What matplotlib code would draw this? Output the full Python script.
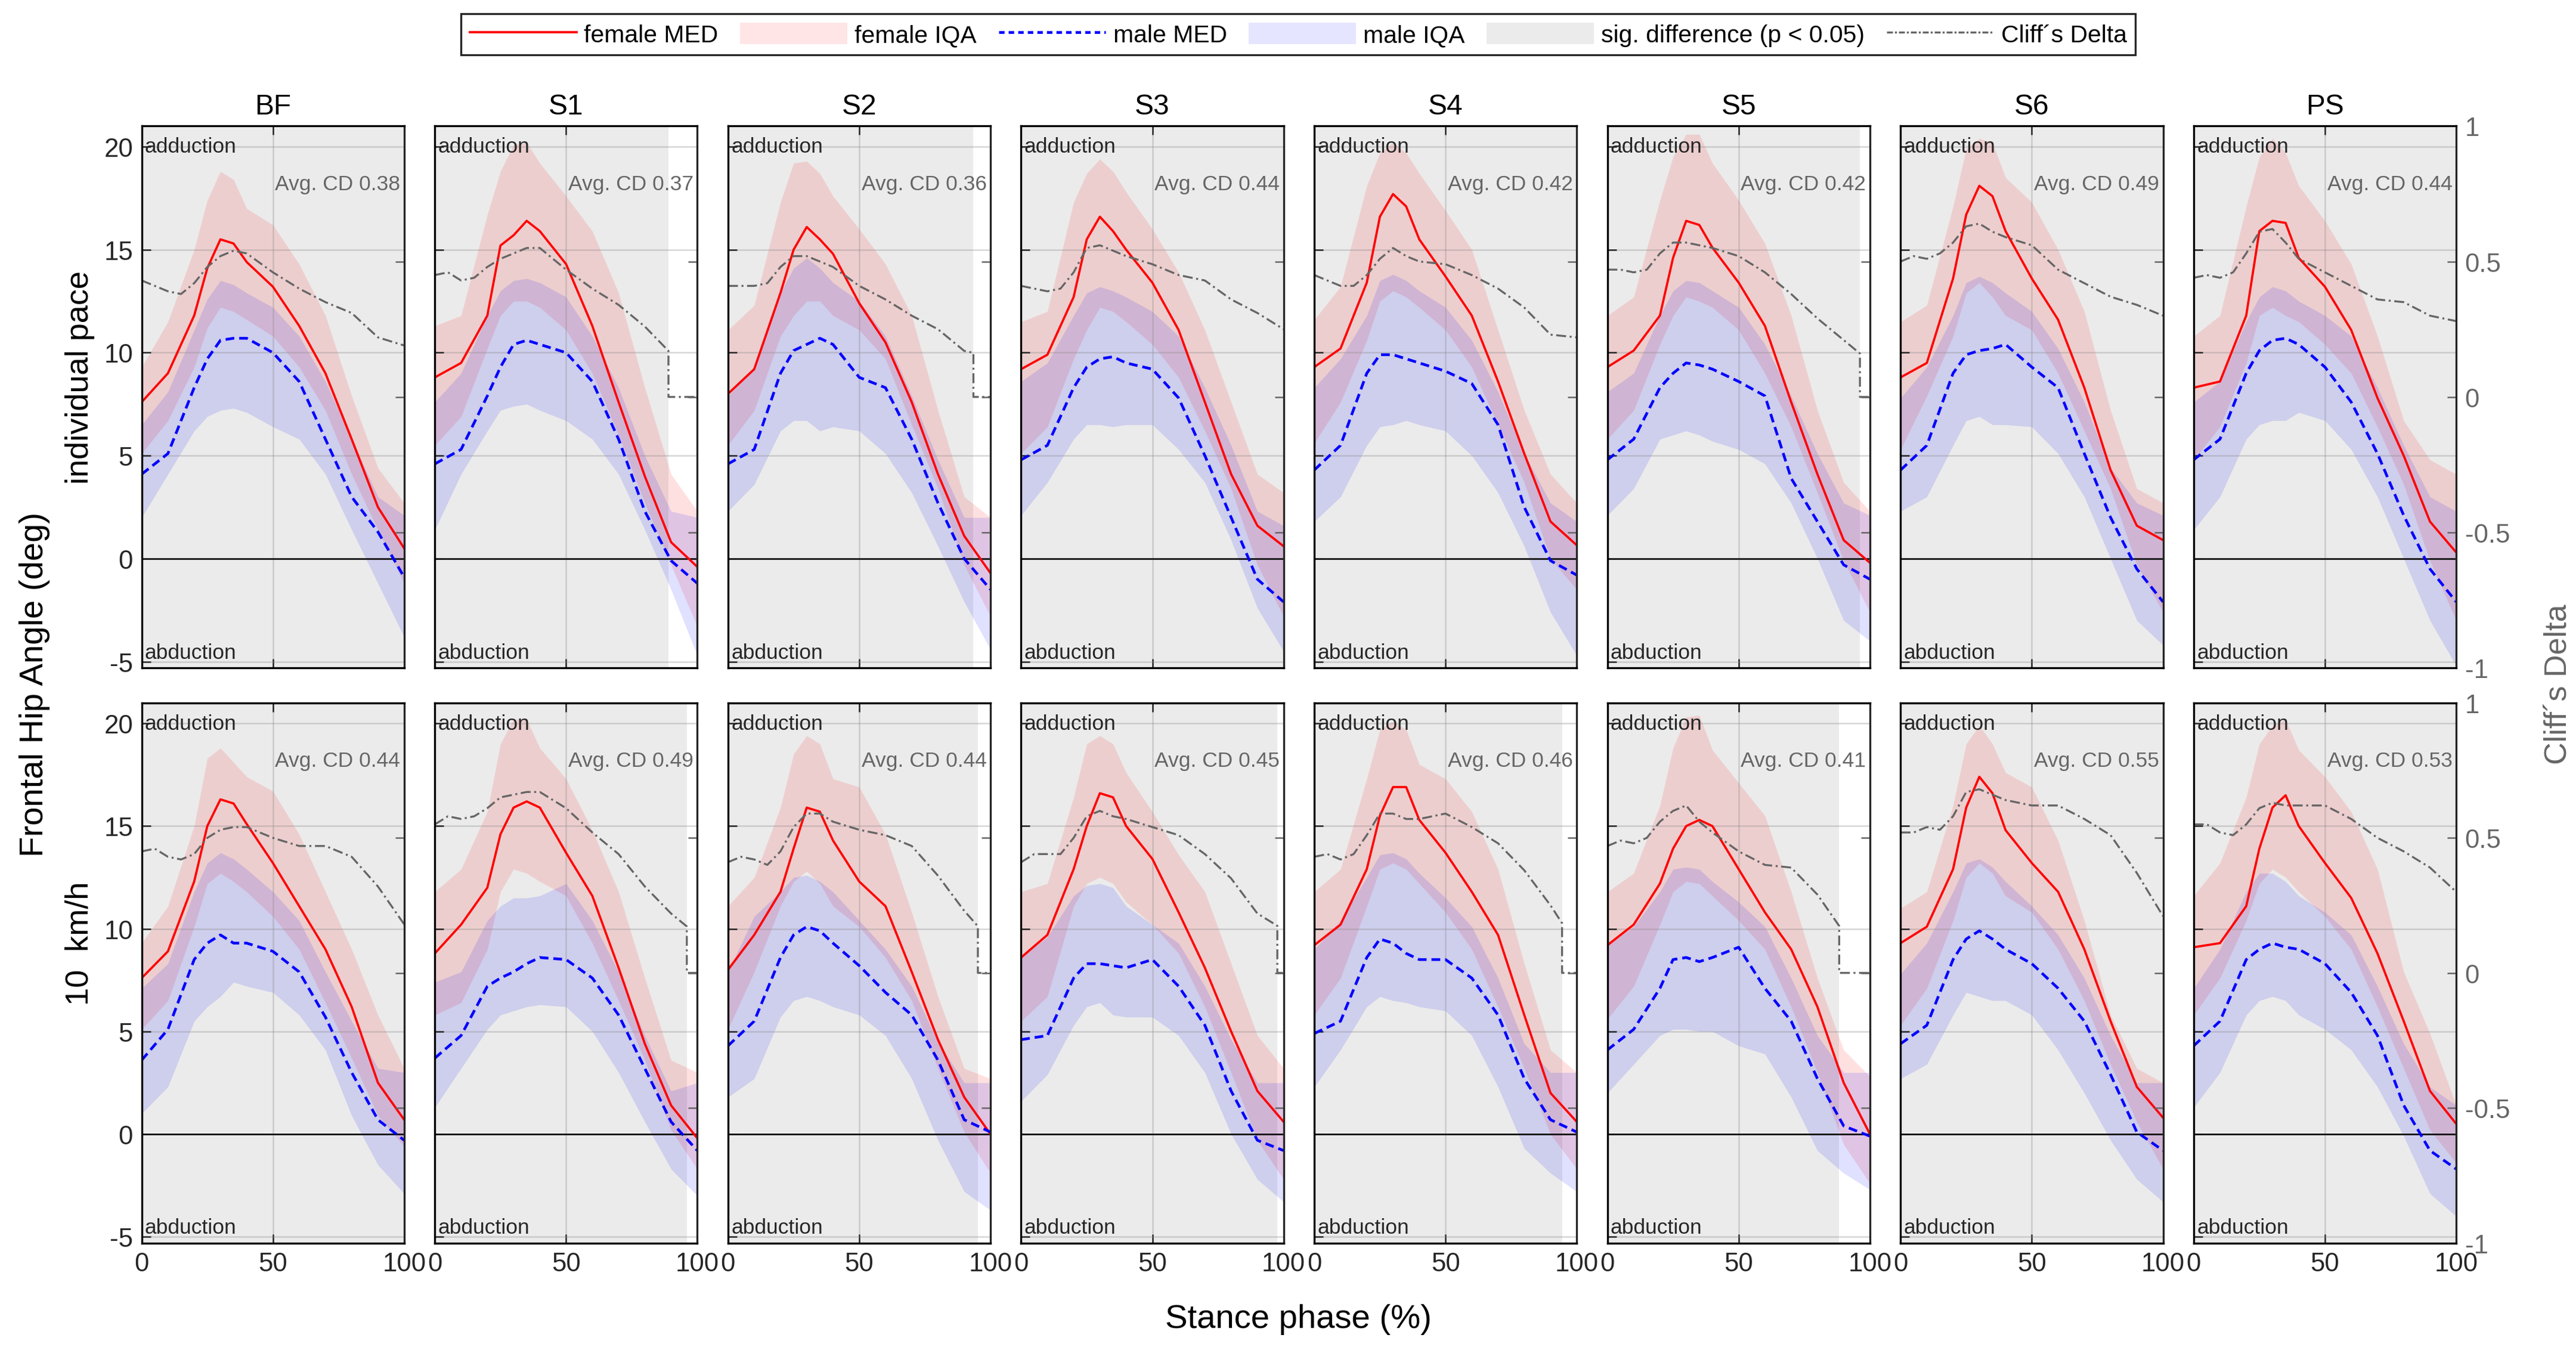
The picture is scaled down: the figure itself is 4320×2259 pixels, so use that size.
import matplotlib
matplotlib.use('Agg')
import matplotlib.pyplot as plt
import numpy as np
from matplotlib.patches import Patch
from matplotlib.lines import Line2D

plt.rcParams['font.family'] = ['Liberation Sans', 'DejaVu Sans']
plt.rcParams['axes.unicode_minus'] = False

# stance phase samples (%) and Cliff's delta samples
x = [0, 10, 20, 25, 30, 35, 40, 50, 60, 70, 80, 90, 100]
cd_x = [0, 5, 10, 15, 20, 25, 30, 35, 40, 50, 60, 70, 80, 90, 100]
conditions = ['BF', 'S1', 'S2', 'S3', 'S4', 'S5', 'S6', 'PS']
row_labels = ['individual pace', '10  km/h']

# ---- individual pace ----
f_med_ip = [
    [7.6, 9.0, 11.8, 14.1, 15.5, 15.3, 14.4, 13.2, 11.3, 9.0, 5.8, 2.5, 0.5],
    [8.8, 9.5, 11.8, 15.2, 15.7, 16.4, 15.9, 14.3, 11.3, 7.6, 4.0, 0.8, -0.4],
    [8.0, 9.2, 12.9, 15.0, 16.1, 15.5, 14.8, 12.4, 10.5, 7.6, 4.1, 1.1, -0.7],
    [9.2, 9.9, 12.7, 15.5, 16.6, 15.9, 15.0, 13.4, 11.1, 7.6, 4.1, 1.6, 0.6],
    [9.3, 10.2, 13.4, 16.6, 17.7, 17.1, 15.5, 13.7, 11.8, 8.6, 5.1, 1.8, 0.65],
    [9.3, 10.1, 11.8, 14.6, 16.4, 16.2, 15.1, 13.4, 11.3, 7.6, 4.1, 0.9, -0.2],
    [8.8, 9.5, 13.6, 16.7, 18.1, 17.6, 15.9, 13.6, 11.6, 8.3, 4.3, 1.6, 0.9],
    [8.3, 8.6, 11.8, 15.9, 16.4, 16.3, 14.6, 13.2, 11.1, 7.8, 5.0, 1.8, 0.3],
]
f_hi_ip = [
    [9.3, 11.5, 15.0, 17.4, 18.8, 18.4, 17.0, 16.2, 14.3, 11.8, 7.9, 4.4, 2.7],
    [11.3, 11.8, 16.7, 18.8, 20.1, 20.2, 19.2, 17.6, 15.9, 12.9, 8.3, 4.1, 2.3],
    [11.1, 12.3, 17.3, 19.2, 19.3, 18.7, 17.6, 16.0, 14.3, 11.8, 7.2, 3.0, 2.0],
    [11.5, 12.0, 17.3, 18.7, 19.4, 18.8, 17.8, 16.0, 13.9, 11.1, 7.6, 4.1, 3.2],
    [11.6, 13.2, 18.1, 19.7, 20.2, 19.7, 18.7, 16.9, 15.0, 11.1, 7.2, 4.1, 2.7],
    [11.8, 12.7, 17.4, 19.5, 20.6, 20.6, 19.2, 17.4, 15.3, 11.8, 7.2, 3.7, 2.3],
    [11.5, 12.3, 17.1, 19.9, 20.4, 20.2, 18.5, 17.3, 15.0, 12.0, 7.2, 3.4, 2.7],
    [10.8, 11.8, 17.1, 19.5, 20.4, 19.7, 18.1, 16.4, 14.3, 10.8, 6.7, 4.8, 4.1],
]
f_lo_ip = [
    [5.1, 6.7, 9.3, 11.2, 12.2, 12.0, 11.6, 10.8, 9.3, 7.2, 4.1, 1.4, -1.2],
    [5.5, 6.9, 10.2, 11.8, 12.5, 12.5, 12.2, 11.1, 9.0, 6.0, 2.7, -0.3, -3.3],
    [5.5, 7.2, 10.8, 11.8, 12.5, 12.5, 11.8, 11.1, 9.7, 6.5, 3.4, -0.3, -2.8],
    [5.1, 6.4, 9.7, 11.1, 12.2, 12.0, 11.5, 10.4, 8.8, 6.2, 3.4, -0.3, -2.8],
    [5.6, 7.6, 10.6, 12.5, 13.0, 12.7, 12.2, 11.1, 9.3, 6.5, 3.7, 0.0, -1.5],
    [5.8, 7.2, 10.4, 11.8, 12.7, 12.5, 12.2, 11.1, 9.0, 6.4, 3.2, -0.1, -2.6],
    [5.3, 7.9, 10.8, 12.9, 13.4, 12.7, 11.8, 11.1, 9.0, 6.2, 3.4, -0.3, -2.6],
    [4.8, 6.4, 9.5, 11.8, 12.2, 11.8, 11.5, 10.4, 9.0, 6.4, 3.6, -0.1, -3.0],
]
m_med_ip = [
    [4.1, 5.1, 8.3, 9.7, 10.6, 10.7, 10.7, 10.0, 8.6, 5.8, 3.0, 1.3, -0.9],
    [4.6, 5.3, 7.9, 9.3, 10.4, 10.6, 10.4, 10.0, 8.6, 5.8, 2.3, -0.1, -1.2],
    [4.6, 5.3, 9.0, 10.1, 10.4, 10.7, 10.4, 8.8, 8.3, 5.8, 2.7, 0.0, -1.5],
    [4.8, 5.5, 8.3, 9.3, 9.7, 9.8, 9.5, 9.2, 7.8, 5.0, 2.0, -1.0, -2.1],
    [4.3, 5.5, 9.0, 9.9, 9.9, 9.7, 9.5, 9.1, 8.5, 6.5, 2.5, -0.1, -0.8],
    [4.8, 5.8, 8.3, 9.0, 9.5, 9.4, 9.2, 8.6, 7.9, 3.9, 1.8, -0.3, -1.0],
    [4.3, 5.5, 9.0, 9.9, 10.1, 10.2, 10.4, 9.3, 8.3, 5.1, 2.0, -0.5, -2.1],
    [4.8, 5.8, 9.0, 10.1, 10.6, 10.7, 10.4, 9.3, 7.6, 5.1, 2.1, -0.5, -2.1],
]
m_hi_ip = [
    [6.5, 8.1, 11.1, 12.6, 13.5, 13.3, 12.9, 12.2, 10.8, 8.6, 5.8, 3.0, 2.1],
    [7.6, 9.0, 11.8, 13.0, 13.5, 13.6, 13.4, 12.7, 10.8, 8.3, 5.0, 2.3, 2.0],
    [7.9, 9.3, 12.9, 14.1, 14.6, 14.1, 13.4, 12.5, 10.8, 7.9, 4.8, 2.0, 2.0],
    [8.6, 9.5, 11.8, 12.9, 13.2, 13.0, 12.7, 12.0, 10.8, 8.3, 5.5, 2.3, 1.6],
    [8.3, 9.7, 11.8, 13.5, 13.8, 13.5, 13.0, 12.2, 10.6, 8.1, 5.1, 2.7, 1.8],
    [8.1, 9.0, 11.8, 13.0, 13.5, 13.4, 13.0, 12.2, 10.4, 7.9, 5.1, 2.7, 2.1],
    [7.8, 9.3, 11.8, 13.4, 13.7, 13.4, 12.9, 12.0, 10.2, 7.6, 4.4, 2.7, 2.1],
    [7.6, 8.6, 11.5, 12.7, 13.2, 13.0, 12.5, 11.8, 10.8, 8.3, 5.5, 3.0, 2.3],
]
m_lo_ip = [
    [2.0, 4.1, 6.2, 6.9, 7.2, 7.3, 7.1, 6.4, 5.8, 4.1, 1.4, -1.2, -3.8],
    [1.4, 4.1, 6.2, 7.2, 7.4, 7.5, 7.2, 6.7, 5.8, 4.1, 1.4, -1.5, -4.7],
    [2.3, 3.6, 6.2, 6.7, 6.7, 6.2, 6.4, 6.2, 5.1, 3.2, 0.6, -2.1, -4.4],
    [2.1, 3.7, 5.8, 6.5, 6.5, 6.4, 6.5, 6.5, 5.3, 3.7, 0.9, -2.4, -4.5],
    [1.8, 3.0, 5.5, 6.4, 6.5, 6.7, 6.5, 6.2, 5.0, 3.2, 0.6, -2.6, -4.7],
    [2.1, 3.4, 5.8, 6.0, 6.2, 6.0, 5.7, 5.3, 4.6, 2.7, 0.0, -3.0, -4.0],
    [2.3, 3.0, 5.5, 6.7, 6.9, 6.5, 6.5, 6.4, 5.1, 3.0, 0.0, -3.0, -4.2],
    [1.4, 3.0, 5.8, 6.5, 6.7, 6.7, 7.1, 6.7, 5.3, 3.0, 0.0, -3.0, -5.2],
]
cd_ip = [
    [0.43, 0.41, 0.39, 0.38, 0.42, 0.48, 0.52, 0.54, 0.53, 0.46, 0.40, 0.35, 0.31, 0.22, 0.19],
    [0.45, 0.46, 0.43, 0.44, 0.48, 0.51, 0.53, 0.55, 0.55, 0.47, 0.40, 0.34, 0.26, 0.16, 0.16],
    [0.41, 0.41, 0.41, 0.42, 0.48, 0.52, 0.52, 0.50, 0.48, 0.41, 0.36, 0.30, 0.25, 0.17, 0.15],
    [0.41, 0.40, 0.39, 0.40, 0.46, 0.55, 0.56, 0.54, 0.52, 0.49, 0.45, 0.43, 0.36, 0.31, 0.25],
    [0.45, 0.43, 0.41, 0.41, 0.45, 0.51, 0.55, 0.52, 0.50, 0.49, 0.45, 0.40, 0.33, 0.23, 0.22],
    [0.47, 0.47, 0.46, 0.47, 0.53, 0.57, 0.57, 0.56, 0.55, 0.52, 0.46, 0.38, 0.29, 0.21, 0.13],
    [0.50, 0.52, 0.51, 0.53, 0.57, 0.63, 0.64, 0.61, 0.59, 0.56, 0.47, 0.42, 0.37, 0.34, 0.30],
    [0.44, 0.45, 0.44, 0.46, 0.53, 0.61, 0.62, 0.57, 0.51, 0.46, 0.41, 0.36, 0.35, 0.30, 0.28],
]
sig_end_ip = [100, 89, 93.5, 100, 100, 96.2, 100, 100]
avg_cd_ip = [0.38, 0.37, 0.36, 0.44, 0.42, 0.42, 0.49, 0.44]

# ---- 10 km/h ----
f_med_10 = [
    [7.6, 8.9, 12.3, 15.0, 16.3, 16.1, 15.1, 13.2, 11.1, 9.0, 6.2, 2.5, 0.7],
    [8.8, 10.2, 12.0, 14.6, 15.9, 16.2, 15.9, 13.7, 11.6, 8.1, 4.4, 1.4, -0.2],
    [8.0, 9.7, 11.8, 13.9, 15.9, 15.7, 14.3, 12.3, 11.1, 7.9, 4.6, 1.8, 0.0],
    [8.6, 9.7, 12.9, 15.0, 16.6, 16.4, 15.0, 13.4, 10.8, 8.1, 5.0, 2.1, 0.6],
    [9.2, 10.2, 12.9, 15.5, 16.9, 16.9, 15.3, 13.7, 11.8, 9.7, 5.8, 2.0, 0.6],
    [9.2, 10.2, 12.2, 13.9, 15.0, 15.3, 15.0, 12.9, 10.8, 9.0, 6.2, 2.5, 0.0],
    [9.3, 10.1, 12.9, 15.9, 17.4, 16.6, 14.8, 13.2, 11.8, 9.0, 5.5, 2.3, 0.8],
    [9.1, 9.3, 11.1, 13.9, 15.9, 16.5, 15.0, 13.2, 11.5, 8.8, 5.5, 2.1, 0.5],
]
f_hi_10 = [
    [9.3, 11.1, 15.0, 18.3, 18.8, 18.1, 17.4, 16.7, 14.6, 11.8, 9.0, 5.8, 3.2],
    [11.8, 12.9, 15.7, 19.0, 20.2, 20.2, 18.8, 17.3, 14.8, 11.8, 7.6, 3.6, 3.0],
    [11.1, 12.5, 15.9, 18.5, 19.4, 19.0, 17.3, 16.9, 14.6, 10.8, 6.7, 3.2, 2.7],
    [11.8, 12.2, 16.4, 19.0, 19.4, 19.0, 17.6, 15.7, 13.6, 11.8, 8.3, 4.8, 3.2],
    [11.8, 12.9, 17.3, 19.7, 20.1, 19.7, 18.0, 17.3, 15.7, 12.9, 8.3, 4.1, 3.0],
    [11.8, 12.7, 16.0, 18.8, 20.3, 20.4, 18.7, 17.1, 15.5, 11.8, 7.6, 4.1, 2.8],
    [11.0, 11.8, 16.0, 19.0, 19.9, 19.0, 17.6, 16.9, 14.3, 10.4, 5.8, 3.2, 2.5],
    [11.6, 13.2, 16.4, 19.0, 19.9, 20.2, 18.7, 17.4, 15.7, 12.9, 7.9, 4.9, 1.4],
]
f_lo_10 = [
    [5.1, 6.5, 10.1, 12.2, 12.7, 12.3, 11.8, 10.6, 9.0, 6.4, 3.7, 0.9, -0.6],
    [5.8, 6.4, 9.0, 11.8, 12.9, 12.7, 12.3, 11.6, 9.3, 6.5, 3.6, 0.2, -1.7],
    [5.1, 7.9, 11.1, 12.3, 12.8, 12.2, 11.1, 10.1, 8.6, 6.5, 3.2, 0.1, -1.9],
    [5.5, 6.7, 11.1, 12.2, 12.5, 12.2, 11.3, 10.2, 8.8, 6.2, 3.0, -0.3, -2.2],
    [5.8, 7.6, 11.1, 12.9, 13.2, 12.9, 12.2, 10.8, 9.0, 6.2, 3.2, 0.0, -1.7],
    [5.6, 7.2, 10.2, 11.8, 12.3, 12.2, 11.6, 10.4, 9.0, 6.2, 3.0, -0.5, -2.4],
    [5.3, 7.1, 10.4, 12.5, 13.2, 12.7, 11.6, 10.8, 9.0, 6.5, 3.4, 0.6, -1.7],
    [5.8, 7.6, 10.4, 12.2, 12.9, 12.5, 11.8, 10.6, 9.0, 6.2, 3.2, 0.2, -1.4],
]
m_med_10 = [
    [3.6, 5.1, 8.5, 9.3, 9.7, 9.3, 9.3, 8.9, 7.9, 5.7, 3.0, 0.7, -0.3],
    [3.7, 4.8, 7.2, 7.6, 7.9, 8.3, 8.6, 8.5, 7.6, 5.8, 3.2, 0.6, -0.8],
    [4.3, 5.5, 8.6, 9.7, 10.1, 9.9, 9.3, 8.2, 6.9, 5.8, 3.6, 0.7, 0.1],
    [4.6, 4.8, 7.6, 8.3, 8.3, 8.2, 8.1, 8.5, 7.2, 5.3, 2.1, -0.3, -0.8],
    [4.9, 5.5, 8.6, 9.5, 9.3, 8.8, 8.5, 8.5, 7.6, 5.8, 2.7, 0.7, 0.1],
    [4.1, 5.1, 7.1, 8.5, 8.6, 8.4, 8.6, 9.1, 7.1, 5.5, 2.7, 0.4, -0.1],
    [4.4, 5.3, 8.5, 9.5, 9.9, 9.5, 9.0, 8.3, 7.1, 5.5, 2.9, 0.1, -0.8],
    [4.3, 5.5, 8.5, 9.0, 9.3, 9.1, 9.0, 8.3, 6.9, 4.8, 1.4, -0.8, -1.7],
]
m_hi_10 = [
    [7.1, 8.3, 11.8, 13.2, 13.7, 13.4, 12.9, 11.8, 10.4, 7.9, 5.5, 3.2, 3.0],
    [7.4, 7.9, 10.4, 11.1, 11.5, 11.5, 11.6, 12.2, 10.4, 7.9, 4.8, 2.1, 2.5],
    [7.9, 10.6, 11.8, 12.5, 12.6, 12.3, 11.8, 10.4, 9.0, 7.2, 4.5, 2.5, 2.5],
    [8.6, 9.6, 11.6, 12.1, 12.2, 12.0, 11.1, 10.2, 9.3, 7.2, 4.6, 2.5, 2.5],
    [9.0, 10.4, 12.5, 13.6, 13.7, 13.4, 12.7, 11.5, 10.1, 7.6, 4.4, 3.0, 3.0],
    [9.2, 10.1, 11.8, 12.9, 13.0, 12.9, 12.3, 11.3, 10.1, 7.6, 4.8, 3.0, 3.0],
    [7.8, 9.3, 11.8, 13.2, 13.4, 13.0, 12.3, 11.1, 9.7, 7.6, 4.8, 2.5, 2.5],
    [7.1, 9.0, 11.8, 12.7, 12.7, 12.3, 11.6, 10.8, 9.7, 7.2, 4.4, 2.3, 1.4],
]
m_lo_10 = [
    [1.0, 2.3, 5.5, 6.2, 6.7, 7.4, 7.2, 6.9, 5.8, 4.1, 0.9, -1.5, -2.9],
    [1.3, 3.2, 5.1, 5.8, 6.0, 6.2, 6.3, 6.2, 5.0, 3.0, 0.6, -1.7, -3.0],
    [1.8, 2.7, 5.7, 6.5, 6.7, 6.5, 6.2, 5.8, 4.8, 2.7, -0.3, -2.8, -3.7],
    [1.6, 2.9, 5.3, 6.2, 6.4, 5.8, 5.7, 5.7, 4.8, 3.0, 0.0, -2.2, -3.3],
    [2.3, 4.1, 6.2, 6.7, 6.5, 6.4, 6.2, 6.0, 4.8, 2.3, -0.7, -1.9, -2.8],
    [2.0, 3.4, 4.8, 5.1, 5.1, 5.0, 5.0, 4.3, 3.9, 1.8, -0.8, -1.9, -2.7],
    [2.7, 3.4, 5.8, 6.9, 6.7, 6.5, 6.5, 5.8, 4.1, 2.0, -0.3, -2.2, -3.3],
    [1.3, 3.0, 5.8, 6.5, 6.7, 6.5, 5.8, 5.1, 4.1, 2.3, -0.1, -2.9, -4.0],
]
cd_10 = [
    [0.45, 0.46, 0.43, 0.42, 0.44, 0.50, 0.53, 0.54, 0.54, 0.50, 0.47, 0.47, 0.43, 0.32, 0.18],
    [0.55, 0.58, 0.57, 0.58, 0.61, 0.65, 0.66, 0.67, 0.67, 0.61, 0.52, 0.44, 0.32, 0.22, 0.14],
    [0.41, 0.43, 0.42, 0.40, 0.45, 0.54, 0.59, 0.59, 0.56, 0.53, 0.51, 0.47, 0.36, 0.23, 0.12],
    [0.41, 0.44, 0.44, 0.44, 0.50, 0.58, 0.60, 0.58, 0.57, 0.54, 0.51, 0.44, 0.35, 0.22, 0.16],
    [0.43, 0.44, 0.42, 0.44, 0.51, 0.59, 0.59, 0.57, 0.57, 0.59, 0.54, 0.48, 0.38, 0.25, 0.10],
    [0.47, 0.49, 0.48, 0.50, 0.56, 0.60, 0.62, 0.56, 0.52, 0.45, 0.40, 0.39, 0.29, 0.15, 0.10],
    [0.52, 0.52, 0.54, 0.53, 0.58, 0.67, 0.68, 0.66, 0.64, 0.62, 0.62, 0.57, 0.51, 0.37, 0.21],
    [0.55, 0.55, 0.52, 0.51, 0.55, 0.61, 0.63, 0.62, 0.62, 0.62, 0.57, 0.50, 0.45, 0.39, 0.30],
]
sig_end_10 = [100, 96, 95.2, 97.6, 94.4, 88.3, 100, 100]
avg_cd_10 = [0.44, 0.49, 0.44, 0.45, 0.46, 0.41, 0.55, 0.53]

rows = [
    (f_med_ip, f_hi_ip, f_lo_ip, m_med_ip, m_hi_ip, m_lo_ip, cd_ip, sig_end_ip, avg_cd_ip),
    (f_med_10, f_hi_10, f_lo_10, m_med_10, m_hi_10, m_lo_10, cd_10, sig_end_10, avg_cd_10),
]

SIG_GRAY = '#ebebeb'
CD_GRAY = '0.4'


def cd_path(vals, end):
    # Cliff's delta is shown only inside the significant region, 0 outside
    xs = [v for v in cd_x if v < end]
    ys = [c for v, c in zip(cd_x, vals) if v < end]
    if end < 100:
        y_end = float(np.interp(end, cd_x, vals))
        xs += [end, end, 100]
        ys += [y_end, 0, 0]
    else:
        xs.append(100)
        ys.append(vals[-1])
    return xs, ys


fig = plt.figure(figsize=(14.4, 7.5333), dpi=300)

left0 = 0.0550
width = 0.1019
pitch = 0.1138
row_pos = [(0.504, 0.402), (0.0772, 0.4008)]

for r, (fmed, fhi, flo, mmed, mhi, mlo, cds, sig_end, avg_cd) in enumerate(rows):
    bottom, height = row_pos[r]
    for c, name in enumerate(conditions):
        ax = fig.add_axes([left0 + c * pitch, bottom, width, height])
        ax.set_facecolor('white')
        ax.axvspan(0, sig_end[c], color=SIG_GRAY, lw=0, zorder=0)

        ax.fill_between(x, flo[c], fhi[c], color='red', alpha=0.12, lw=0, zorder=1)
        ax.fill_between(x, mlo[c], mhi[c], color='blue', alpha=0.12, lw=0, zorder=1)

        ax.axhline(0, color='0.1', lw=0.7, zorder=1.6)
        ax.plot(x, fmed[c], color='red', lw=0.9, zorder=3)
        ax.plot(x, mmed[c], color='blue', lw=1.1, dashes=(3.2, 1.8), zorder=3)

        ax.set_xlim(0, 100)
        ax.set_ylim(-5.3, 21)
        ax.set_xticks([0, 50, 100])
        ax.set_yticks([-5, 0, 5, 10, 15, 20])
        ax.set_axisbelow('line')
        ax.grid(True, color='0.55', alpha=0.35, lw=0.6)
        ax.tick_params(direction='in', length=3.5, width=0.6, labelsize=10.5,
                       top=True, colors='0.15')
        for sp in ax.spines.values():
            sp.set_color('0.15')
            sp.set_linewidth(0.7)

        if c > 0:
            ax.set_yticklabels([])
        if r == 0:
            ax.set_xticklabels([])
            ax.set_title(name, fontsize=11.5, pad=5)

        ax.text(1.2, 20, 'adduction', fontsize=8.5, va='center', ha='left',
                color='0.15', zorder=4)
        ax.text(1.2, -4.55, 'abduction', fontsize=8.5, va='center', ha='left',
                color='0.15', zorder=4)
        ax.text(98.5, 18.2, 'Avg. CD %.2f' % avg_cd[c], fontsize=8.5,
                va='center', ha='right', color=CD_GRAY, zorder=4)

        # Cliff's delta on the right axis
        ax2 = ax.twinx()
        cx, cy = cd_path(cds[c], sig_end[c])
        ax2.plot(cx, cy, color=CD_GRAY, lw=0.8, dashes=(5, 1.8, 1, 1.8))
        ax2.set_ylim(-1, 1)
        ax2.set_yticks([-1, -0.5, 0, 0.5, 1])
        ax2.tick_params(direction='in', length=3.5, width=0.6, labelsize=10.5,
                        colors=CD_GRAY)
        ax2.spines['right'].set_color('0.15')
        if c == len(conditions) - 1:
            ax2.set_yticklabels(['-1', '-0.5', '0', '0.5', '1'])
        else:
            ax2.set_yticklabels([])

    fig.text(0.031, 0.72 if r == 0 else 0.30, row_labels[r], rotation=90,
             fontsize=13, ha='center', va='center')

fig.text(0.0135, 0.492, 'Frontal Hip Angle (deg)', rotation=90, fontsize=13.5,
         ha='center', va='center')
fig.text(0.504, 0.021, 'Stance phase (%)', fontsize=13.5, ha='center', va='center')
fig.text(0.993, 0.492, 'Cliff\u00b4s Delta', rotation=90, fontsize=12.5,
         ha='center', va='center', color=CD_GRAY)

handles = [
    Line2D([], [], color='red', lw=0.9),
    Patch(facecolor='red', alpha=0.1, lw=0),
    Line2D([], [], color='blue', lw=1.1, dashes=(2, 1.5)),
    Patch(facecolor='blue', alpha=0.1, lw=0),
    Patch(facecolor=SIG_GRAY, lw=0),
    Line2D([], [], color=CD_GRAY, lw=0.8, dashes=(3, 1, 1, 1)),
]
labels = ['female MED', 'female IQA', 'male MED', 'male IQA',
          'sig. difference (p < 0.05)', 'Cliff\u00b4s Delta']
leg = fig.legend(handles, labels, loc='center', bbox_to_anchor=(0.504, 0.974),
                 ncol=6, fontsize=9.8, frameon=True, fancybox=False,
                 edgecolor='0.15', framealpha=1, handlelength=4.4,
                 handleheight=1.0, handletextpad=0.3, columnspacing=0.9,
                 borderpad=0.35)
leg.get_frame().set_linewidth(0.8)

fig.savefig('out.png', dpi=300)
